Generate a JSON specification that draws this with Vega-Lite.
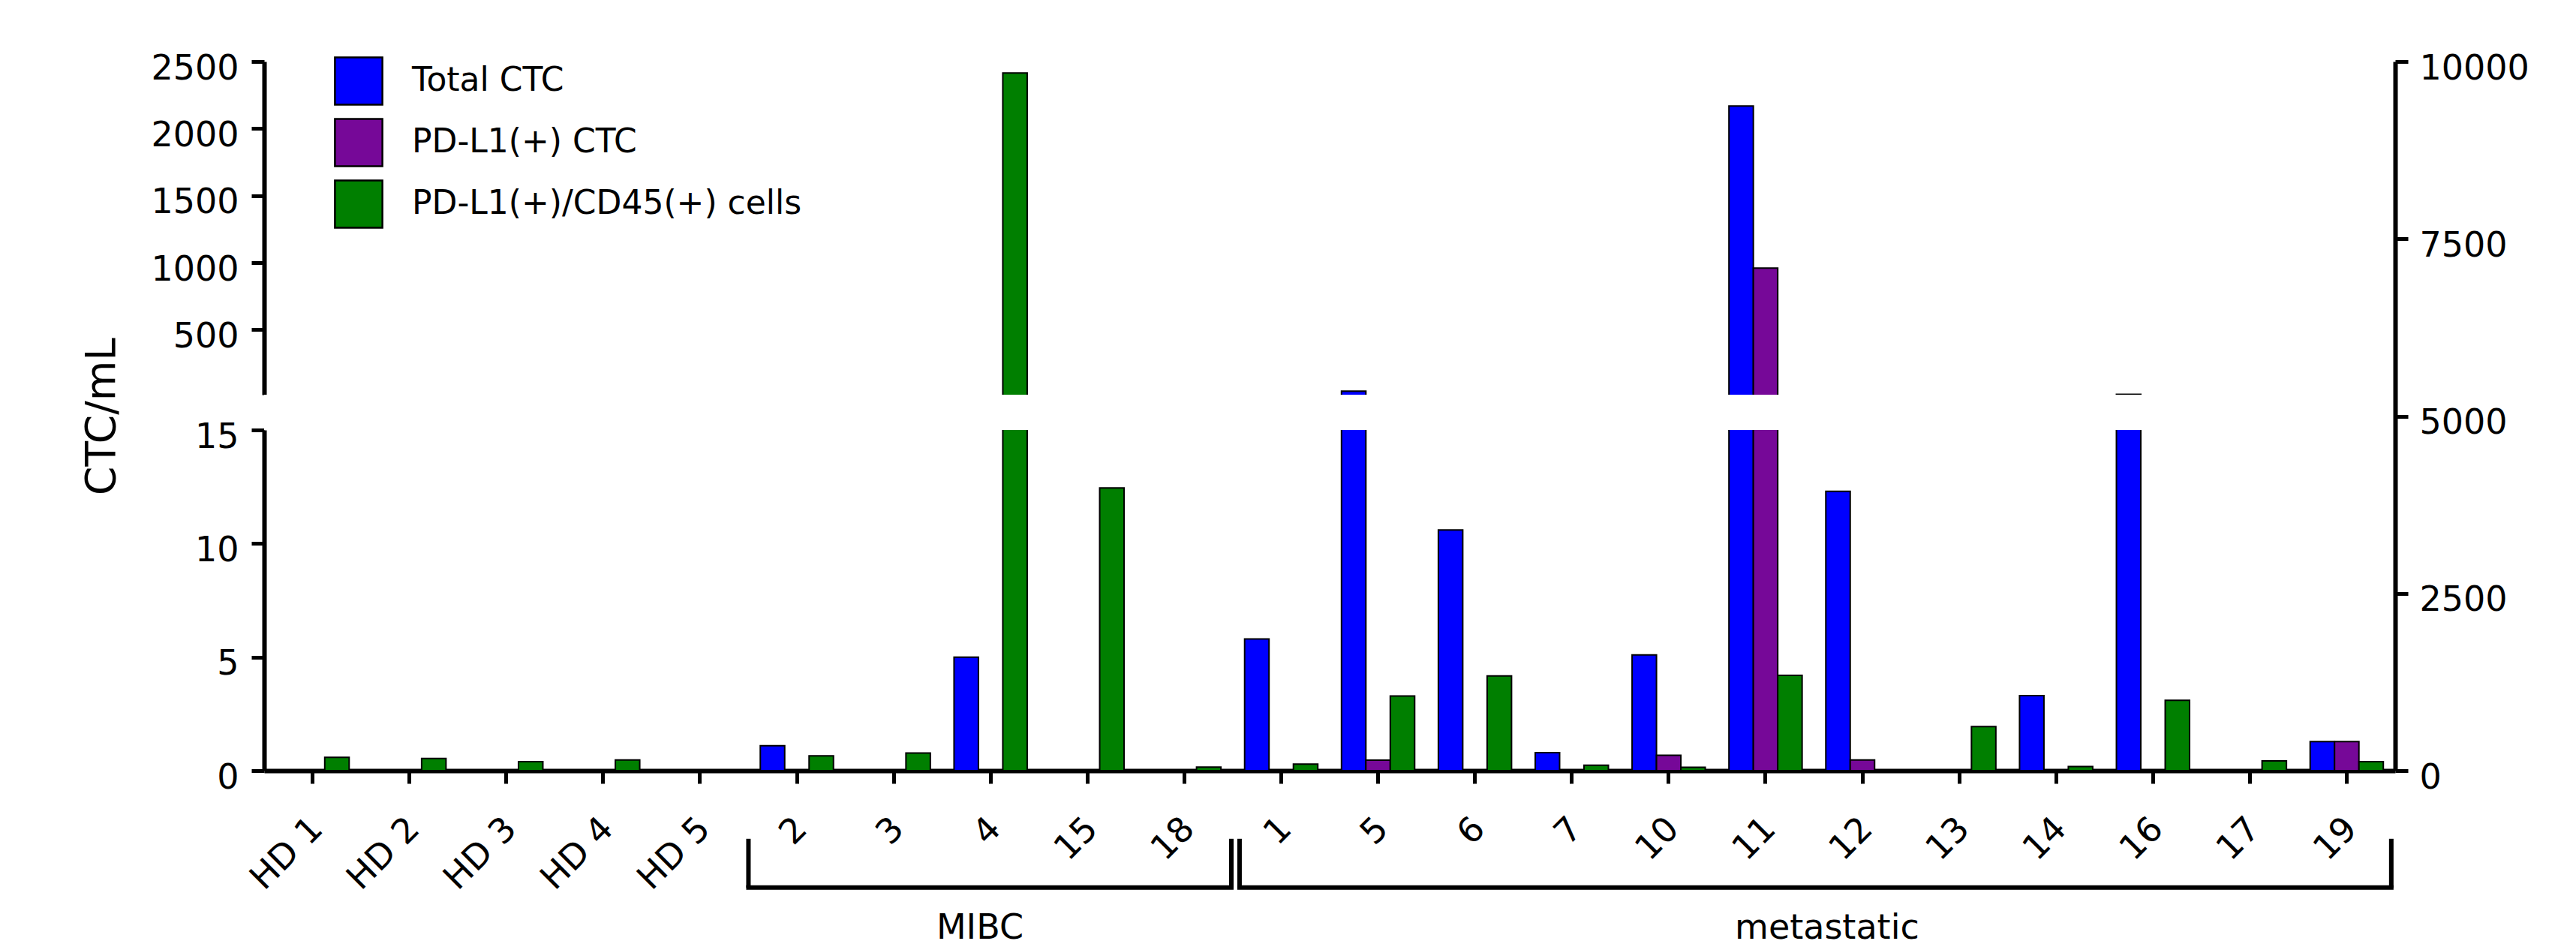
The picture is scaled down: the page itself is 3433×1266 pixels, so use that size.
{
  "$schema": "https://vega.github.io/schema/vega-lite/v6.json",
  "autosize": {"type": "none"},
  "width": 2840,
  "height": 945,
  "padding": {"left": 352, "top": 82, "right": 241, "bottom": 239},
  "background": "white",
  "config": {
    "view": {"stroke": null},
    "font": "DejaVu Sans",
    "axis": {"grid": false, "domainColor": "black", "tickColor": "black", "labelColor": "black", "titleColor": "black", "labelFont": "DejaVu Sans", "titleFont": "DejaVu Sans", "domainWidth": 6, "tickWidth": 5, "tickSize": 17, "labelFontSize": 46},
    "legend": {"labelFont": "DejaVu Sans", "labelColor": "black"}
  },
  "resolve": {"scale": {"y": "independent"}},
  "layer": [
    {
      "data": {"values": [
        {"patient": "2", "series": "Total CTC", "value": 1.1},
        {"patient": "4", "series": "Total CTC", "value": 5.0},
        {"patient": "1", "series": "Total CTC", "value": 5.8},
        {"patient": "5", "series": "Total CTC", "value": 41},
        {"patient": "6", "series": "Total CTC", "value": 10.6},
        {"patient": "7", "series": "Total CTC", "value": 0.79},
        {"patient": "10", "series": "Total CTC", "value": 5.1},
        {"patient": "11", "series": "Total CTC", "value": 2168},
        {"patient": "12", "series": "Total CTC", "value": 12.3},
        {"patient": "14", "series": "Total CTC", "value": 3.3},
        {"patient": "16", "series": "Total CTC", "value": 18},
        {"patient": "19", "series": "Total CTC", "value": 1.28},
        {"patient": "5", "series": "PD-L1(+) CTC", "value": 0.46},
        {"patient": "10", "series": "PD-L1(+) CTC", "value": 0.68},
        {"patient": "11", "series": "PD-L1(+) CTC", "value": 959},
        {"patient": "12", "series": "PD-L1(+) CTC", "value": 0.47},
        {"patient": "19", "series": "PD-L1(+) CTC", "value": 1.28},
        {"patient": "HD 1", "series": "PD-L1(+)/CD45(+) cells", "value": 0.59},
        {"patient": "HD 2", "series": "PD-L1(+)/CD45(+) cells", "value": 0.54},
        {"patient": "HD 3", "series": "PD-L1(+)/CD45(+) cells", "value": 0.40},
        {"patient": "HD 4", "series": "PD-L1(+)/CD45(+) cells", "value": 0.47},
        {"patient": "2", "series": "PD-L1(+)/CD45(+) cells", "value": 0.65},
        {"patient": "3", "series": "PD-L1(+)/CD45(+) cells", "value": 0.78},
        {"patient": "4", "series": "PD-L1(+)/CD45(+) cells", "value": 2414},
        {"patient": "15", "series": "PD-L1(+)/CD45(+) cells", "value": 12.45},
        {"patient": "18", "series": "PD-L1(+)/CD45(+) cells", "value": 0.16},
        {"patient": "1", "series": "PD-L1(+)/CD45(+) cells", "value": 0.29},
        {"patient": "5", "series": "PD-L1(+)/CD45(+) cells", "value": 3.29},
        {"patient": "6", "series": "PD-L1(+)/CD45(+) cells", "value": 4.17},
        {"patient": "7", "series": "PD-L1(+)/CD45(+) cells", "value": 0.24},
        {"patient": "10", "series": "PD-L1(+)/CD45(+) cells", "value": 0.15},
        {"patient": "11", "series": "PD-L1(+)/CD45(+) cells", "value": 4.2},
        {"patient": "13", "series": "PD-L1(+)/CD45(+) cells", "value": 1.94},
        {"patient": "14", "series": "PD-L1(+)/CD45(+) cells", "value": 0.18},
        {"patient": "16", "series": "PD-L1(+)/CD45(+) cells", "value": 3.1},
        {"patient": "17", "series": "PD-L1(+)/CD45(+) cells", "value": 0.43},
        {"patient": "19", "series": "PD-L1(+)/CD45(+) cells", "value": 0.40}
      ]},
      "mark": {"type": "bar", "stroke": "black", "strokeWidth": 2},
      "encoding": {
        "x": {
          "field": "patient", "type": "nominal",
          "scale": {"domain": ["HD 1", "HD 2", "HD 3", "HD 4", "HD 5", "2", "3", "4", "15", "18", "1", "5", "6", "7", "10", "11", "12", "13", "14", "16", "17", "19"], "paddingInner": 0, "paddingOuter": 0},
          "axis": {"title": null, "labelAngle": -45, "labelAlign": "right", "labelBaseline": "middle", "labelPadding": 53, "labelOffset": 6, "labelOverlap": false, "labelBound": false}
        },
        "xOffset": {"field": "series", "type": "nominal", "sort": ["Total CTC", "PD-L1(+) CTC", "PD-L1(+)/CD45(+) cells"], "scale": {"paddingInner": 0, "paddingOuter": 0.486}},
        "y": {
          "field": "value", "type": "quantitative",
          "scale": {"domain": [0, 15, 15.001, 2500], "range": [945, 491, 444, 0], "nice": false, "zero": false},
          "axis": {"orient": "left", "domain": false, "values": [0, 5, 10, 15, 500, 1000, 1500, 2000, 2500], "format": "d", "labelPadding": 17, "labelOffset": 9, "title": "CTC/mL", "titleFontSize": 55, "titleFontWeight": "normal", "titlePadding": 36, "labelFlush": false}
        },
        "color": {
          "field": "series", "type": "nominal",
          "scale": {"domain": ["Total CTC", "PD-L1(+) CTC", "PD-L1(+)/CD45(+) cells"], "range": ["#0000FF", "#760898", "#007F00"]},
          "legend": {"title": null, "orient": "none", "legendX": 93, "legendY": -7, "padding": 0, "symbolType": "square", "symbolSize": 4000, "symbolStrokeColor": "black", "symbolStrokeWidth": 2.5, "symbolOpacity": 1, "labelFontSize": 44, "labelOffset": 38, "rowPadding": 8, "labelLimit": 1000}
        }
      }
    },
    {
      "data": {"values": [{}]},
      "mark": {"type": "rect", "fill": "white"},
      "encoding": {
        "y": {"datum": 15, "type": "quantitative", "scale": {"domain": [0, 15, 15.001, 2500], "range": [945, 491, 444, 0], "nice": false, "zero": false}, "axis": null},
        "y2": {"datum": 15.001}
      }
    },
    {
      "data": {"values": [{}]},
      "mark": {"type": "point", "opacity": 0},
      "encoding": {
        "y": {"datum": 0, "type": "quantitative", "scale": {"domain": [0, 15], "range": [945, 491], "nice": false, "zero": false}, "axis": {"orient": "left", "domain": true, "ticks": false, "labels": false, "title": null}}
      }
    },
    {
      "data": {"values": [{}]},
      "mark": {"type": "point", "opacity": 0},
      "encoding": {
        "y": {"datum": 15, "type": "quantitative", "scale": {"domain": [15, 2500], "range": [444, 0], "nice": false, "zero": false}, "axis": {"orient": "left", "domain": true, "ticks": false, "labels": false, "title": null}}
      }
    },
    {
      "data": {"values": [{}]},
      "mark": {"type": "point", "opacity": 0},
      "encoding": {
        "y": {"datum": 0, "type": "quantitative", "scale": {"domain": [0, 10000], "range": [945, 0], "nice": false, "zero": false}, "axis": {"orient": "right", "values": [0, 2500, 5000, 7500, 10000], "format": "d", "labelPadding": 15, "labelOffset": 9, "title": null, "zindex": 1, "labelFlush": false}}
      }
    },
    {
      "data": {"values": [{"group": "MIBC", "from": "2", "to": "18"}]},
      "mark": {"type": "rule", "stroke": "black", "strokeWidth": 6, "strokeCap": "square"},
      "encoding": {
        "x": {"field": "from", "type": "nominal", "bandPosition": 0},
        "x2": {"field": "to", "bandPosition": 0.985},
        "y": {"datum": -5.15, "type": "quantitative", "scale": {"domain": [0, 15], "range": [945, 491], "nice": false, "zero": false}, "axis": null}
      }
    },
    {
      "data": {"values": [{"group": "MIBC", "from": "2", "to": "18"}]},
      "mark": {"type": "rule", "stroke": "black", "strokeWidth": 6},
      "encoding": {
        "x": {"field": "from", "type": "nominal", "bandPosition": 0},
        "y": {"datum": -3.0, "type": "quantitative", "scale": {"domain": [0, 15], "range": [945, 491], "nice": false, "zero": false}, "axis": null},
        "y2": {"datum": -5.15}
      }
    },
    {
      "data": {"values": [{"group": "MIBC", "from": "2", "to": "18"}]},
      "mark": {"type": "rule", "stroke": "black", "strokeWidth": 6},
      "encoding": {
        "x": {"field": "to", "type": "nominal", "bandPosition": 0.985},
        "y": {"datum": -3.0, "type": "quantitative", "scale": {"domain": [0, 15], "range": [945, 491], "nice": false, "zero": false}, "axis": null},
        "y2": {"datum": -5.15}
      }
    },
    {
      "data": {"values": [{"group": "metastatic", "from": "1", "to": "19"}]},
      "mark": {"type": "rule", "stroke": "black", "strokeWidth": 6, "strokeCap": "square"},
      "encoding": {
        "x": {"field": "from", "type": "nominal", "bandPosition": 0.07},
        "x2": {"field": "to", "bandPosition": 0.96},
        "y": {"datum": -5.15, "type": "quantitative", "scale": {"domain": [0, 15], "range": [945, 491], "nice": false, "zero": false}, "axis": null}
      }
    },
    {
      "data": {"values": [{"group": "metastatic", "from": "1", "to": "19"}]},
      "mark": {"type": "rule", "stroke": "black", "strokeWidth": 6},
      "encoding": {
        "x": {"field": "from", "type": "nominal", "bandPosition": 0.07},
        "y": {"datum": -3.0, "type": "quantitative", "scale": {"domain": [0, 15], "range": [945, 491], "nice": false, "zero": false}, "axis": null},
        "y2": {"datum": -5.15}
      }
    },
    {
      "data": {"values": [{"group": "metastatic", "from": "1", "to": "19"}]},
      "mark": {"type": "rule", "stroke": "black", "strokeWidth": 6},
      "encoding": {
        "x": {"field": "to", "type": "nominal", "bandPosition": 0.96},
        "y": {"datum": -3.0, "type": "quantitative", "scale": {"domain": [0, 15], "range": [945, 491], "nice": false, "zero": false}, "axis": null},
        "y2": {"datum": -5.15}
      }
    },
    {
      "data": {"values": [{"group": "MIBC", "at": "4"}]},
      "mark": {"type": "text", "fontSize": 46, "font": "DejaVu Sans", "color": "black", "align": "center", "baseline": "alphabetic"},
      "encoding": {
        "x": {"field": "at", "type": "nominal", "bandPosition": 0.39},
        "y": {"datum": -7.4, "type": "quantitative", "scale": {"domain": [0, 15], "range": [945, 491], "nice": false, "zero": false}, "axis": null},
        "text": {"field": "group"}
      }
    },
    {
      "data": {"values": [{"group": "metastatic", "at": "12"}]},
      "mark": {"type": "text", "fontSize": 46, "font": "DejaVu Sans", "color": "black", "align": "center", "baseline": "alphabetic"},
      "encoding": {
        "x": {"field": "at", "type": "nominal", "bandPosition": 0.135},
        "y": {"datum": -7.4, "type": "quantitative", "scale": {"domain": [0, 15], "range": [945, 491], "nice": false, "zero": false}, "axis": null},
        "text": {"field": "group"}
      }
    }
  ]
}
